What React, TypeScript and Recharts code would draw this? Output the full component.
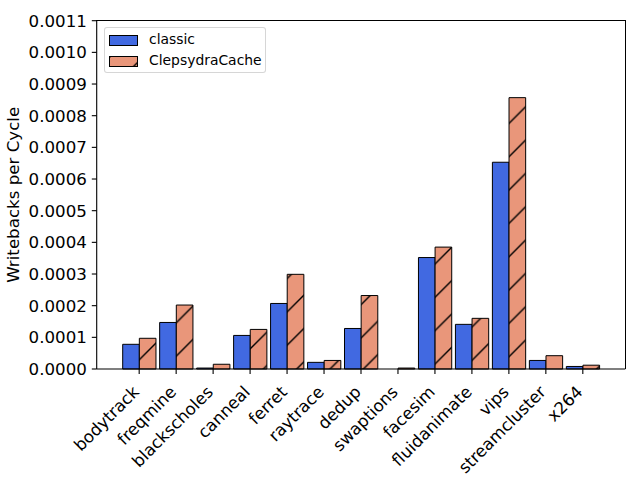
import React from 'react'
import { BarChart, Bar, XAxis, YAxis, Legend } from 'recharts'

const benchmarks = [
  'bodytrack', 'freqmine', 'blackscholes', 'canneal', 'ferret', 'raytrace', 'dedup',
  'swaptions', 'facesim', 'fluidanimate', 'vips', 'streamcluster', 'x264',
]
const classic = [
  0.000078, 0.000147, 0.000003, 0.000106, 0.000207, 0.000021, 0.000128,
  0, 0.000352, 0.000141, 0.000653, 0.000027, 0.000008,
]
const clepsydra = [
  0.000097, 0.000202, 0.000015, 0.000125, 0.000299, 0.000027, 0.000232,
  0.000003, 0.000385, 0.00016, 0.000857, 0.000042, 0.000012,
]
const yTicks = [
  0, 0.0001, 0.0002, 0.0003, 0.0004, 0.0005, 0.0006, 0.0007, 0.0008, 0.0009, 0.001, 0.0011,
]

const FONT = '"DejaVu Sans", sans-serif'
const BLUE = '#4169E1'
const SALMON = '#E9967A'
const HATCH = 33.33

// plot area, matches the matplotlib axes box
const PLOT = { left: 96.7, top: 20.7, right: 625.3, bottom: 369 }

const data = benchmarks.map((name, i) => ({
  name,
  classic: classic[i],
  ClepsydraCache: clepsydra[i],
}))

function XTick(props: any) {
  const { x, payload } = props
  const ex = x + 1
  const ey = 393
  return (
    <text
      x={ex}
      y={ey}
      textAnchor="end"
      transform={`rotate(-45, ${ex}, ${ey})`}
      fontSize={16.67}
      fontFamily={FONT}
      fill="#000"
    >
      {payload.value}
    </text>
  )
}

function YTick(props: any) {
  const { x, y, payload } = props
  return (
    <text x={x} y={y} dy="0.36em" textAnchor="end" fontSize={16.67} fontFamily={FONT} fill="#000">
      {Number(payload.value).toFixed(4)}
    </text>
  )
}

function YLabel() {
  const cx = 19
  const cy = (PLOT.top + PLOT.bottom) / 2
  return (
    <text
      x={cx}
      y={cy}
      textAnchor="middle"
      transform={`rotate(-90, ${cx}, ${cy})`}
      fontSize={16.67}
      fontFamily={FONT}
      fill="#000"
    >
      Writebacks per Cycle
    </text>
  )
}

function hatchPath() {
  return `M-2,2 L2,-2 M0,${HATCH} L${HATCH},0 M${HATCH - 2},${HATCH + 2} L${HATCH + 2},${HATCH - 2}`
}

function LegendBox() {
  const rows = [
    { label: 'classic', hatch: false },
    { label: 'ClepsydraCache', hatch: true },
  ]
  return (
    <div
      style={{
        position: 'relative',
        width: 162,
        height: 46,
        boxSizing: 'border-box',
        border: '1px solid rgba(204,204,204,0.8)',
        borderRadius: 3,
        background: 'rgba(255,255,255,0.8)',
        fontFamily: FONT,
        fontSize: 13.9,
        color: '#000',
      }}
    >
      {rows.map((r, i) => (
        <div key={r.label}>
          <svg
            width={29}
            height={11}
            style={{ position: 'absolute', left: 4, top: 6.5 + i * 21, overflow: 'visible' }}
          >
            {r.hatch && (
              <defs>
                <pattern id="hatchLegend" patternUnits="userSpaceOnUse" x={1.7} y={0} width={HATCH} height={HATCH}>
                  <rect x={0} y={0} width={HATCH} height={HATCH} fill={SALMON} />
                  <path d={hatchPath()} stroke="#000" strokeWidth={1.4} />
                </pattern>
              </defs>
            )}
            <rect
              x={0.5}
              y={0.5}
              width={28}
              height={10}
              fill={r.hatch ? 'url(#hatchLegend)' : BLUE}
              stroke="#000"
              strokeWidth={1}
            />
          </svg>
          <span
            style={{
              position: 'absolute',
              left: 44,
              top: 12 + i * 21,
              transform: 'translateY(-50%)',
              lineHeight: 1,
              whiteSpace: 'nowrap',
            }}
          >
            {r.label}
          </span>
        </div>
      ))}
    </div>
  )
}

export default function App() {
  return (
    <div style={{ width: 640, height: 480, position: 'relative', background: '#fff' }}>
      <style>{'body{margin:0}'}</style>
      <BarChart
        width={640}
        height={480}
        data={data}
        margin={{ top: PLOT.top, right: 640 - PLOT.right, left: 0, bottom: 0 }}
        barCategoryGap={0}
        barGap={0}
      >
        <defs>
          <pattern id="hatchBar" patternUnits="userSpaceOnUse" x={-0.9} y={0} width={HATCH} height={HATCH}>
            <rect x={0} y={0} width={HATCH} height={HATCH} fill={SALMON} />
            <path d={hatchPath()} stroke="#000" strokeWidth={1.4} />
          </pattern>
        </defs>
        <XAxis
          dataKey="name"
          height={480 - PLOT.bottom}
          padding={{ left: 24, right: 24 }}
          interval={0}
          tick={<XTick />}
          tickSize={4.9}
          tickLine={{ stroke: '#000', strokeWidth: 1.1 }}
          axisLine={{ stroke: '#000', strokeWidth: 1.1 }}
        />
        <YAxis
          width={PLOT.left}
          domain={[0, 0.0011]}
          ticks={yTicks}
          interval={0}
          tick={<YTick />}
          tickSize={4.9}
          tickMargin={4.9}
          tickLine={{ stroke: '#000', strokeWidth: 1.1 }}
          axisLine={{ stroke: '#000', strokeWidth: 1.1 }}
          label={{ content: () => <YLabel /> }}
        />
        <Legend
          layout="vertical"
          align="center"
          verticalAlign="middle"
          content={<LegendBox />}
          wrapperStyle={{ position: 'absolute', left: 104, top: 27, width: 162, height: 46 }}
        />
        <Bar
          dataKey="classic"
          name="classic"
          fill={BLUE}
          stroke="#000"
          strokeWidth={1}
          barSize={18.5}
          isAnimationActive={false}
        />
        <Bar
          dataKey="ClepsydraCache"
          name="ClepsydraCache"
          fill="url(#hatchBar)"
          stroke="#000"
          strokeWidth={1}
          barSize={18.5}
          isAnimationActive={false}
        />
      </BarChart>
      {/* axes frame (top and right spines) */}
      <div
        style={{
          position: 'absolute',
          left: PLOT.left - 0.55,
          top: PLOT.top - 0.55,
          width: PLOT.right - PLOT.left,
          height: PLOT.bottom - PLOT.top,
          borderTop: '1.1px solid #000',
          borderRight: '1.1px solid #000',
          pointerEvents: 'none',
        }}
      />
    </div>
  )
}
